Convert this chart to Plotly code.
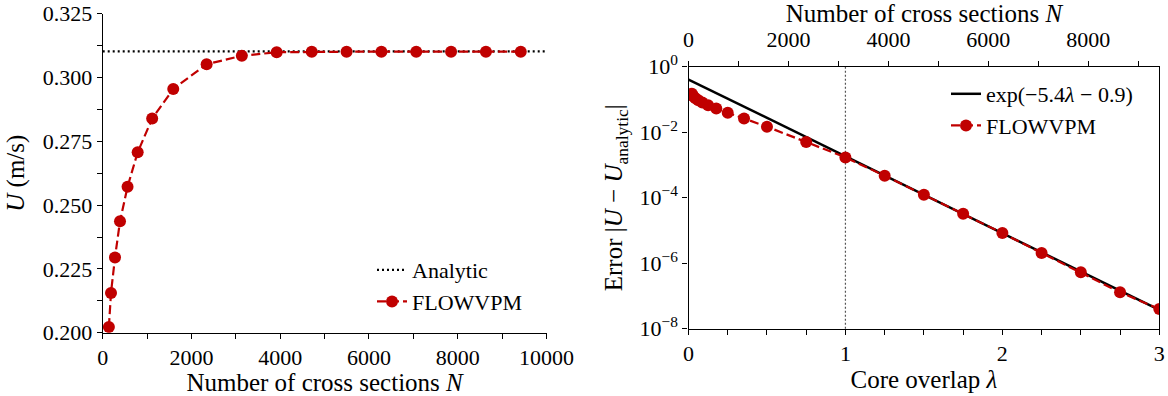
import plotly.graph_objects as go

# ---------------- data ----------------
# Left panel: converged velocity vs number of cross sections
N_sections = [139, 187, 277, 390, 560, 788, 1115, 1590, 2342, 3135, 3920, 4710, 5495, 6280, 7065, 7850, 8635, 9420]
U_flowvpm = [0.2022, 0.2156, 0.2295, 0.2437, 0.2572, 0.2707, 0.2839, 0.2955, 0.3052, 0.3085,
             0.3099, 0.3101, 0.3101, 0.3101, 0.3101, 0.3101, 0.3101, 0.3101]
U_analytic = 0.3102
N_analytic = [0, 10000]

# Right panel: error vs core overlap
lam = [0.022, 0.031, 0.044, 0.0625, 0.088, 0.125, 0.177, 0.25, 0.354, 0.5, 0.75, 1.0,
       1.25, 1.5, 1.75, 2.0, 2.25, 2.5, 2.75, 3.0]
err = [0.150, 0.125, 0.108, 0.0946, 0.0807, 0.0665, 0.053, 0.0395, 0.0262, 0.0147, 0.0050, 0.0017,
       4.7e-4, 1.24e-4, 3.23e-5, 8.3e-6, 2.05e-6, 5.25e-7, 1.29e-7, 4.0e-8]
fit_lam = [0.0, 3.0]
fit_err = [0.4066, 3.74e-8]          # exp(-5.4*lam - 0.9) at the end points
lam_marker = 1.0
N_top_max = 9420                      # N corresponding to lam = 3

left_xticks = [0, 2000, 4000, 6000, 8000, 10000]
left_xticktext = ["0", "2000", "4000", "6000", "8000", "10000"]
left_yticks = [0.200, 0.225, 0.250, 0.275, 0.300, 0.325]
right_xticks = [0, 1, 2, 3]
right_yticks = [1, 1e-2, 1e-4, 1e-6, 1e-8]
right_yticktext = ["10<sup>0</sup>", "10<sup>−2</sup>", "10<sup>−4</sup>", "10<sup>−6</sup>", "10<sup>−8</sup>"]
top_xticks = [0, 2000, 4000, 6000, 8000]

# ---------------- style ----------------
RED = "#c00000"
FONT = "Liberation Serif"
TICK = 22
TITLE = 25
W, H = 1168, 396

fig = go.Figure()

fig.add_trace(go.Scatter(x=N_analytic, y=[U_analytic, U_analytic], mode="lines",
                         line=dict(color="black", width=2.2, dash="2px,3px"),
                         name="Analytic", xaxis="x", yaxis="y", legend="legend"))
fig.add_trace(go.Scatter(x=N_sections, y=U_flowvpm, mode="lines+markers",
                         line=dict(color=RED, width=2.2, dash="9px,4px"),
                         marker=dict(color=RED, size=12),
                         name="FLOWVPM", xaxis="x", yaxis="y", legend="legend"))

fig.add_trace(go.Scatter(x=fit_lam, y=fit_err, mode="lines",
                         line=dict(color="black", width=2.5),
                         name="exp(−5.4<i>λ</i> − 0.9)", xaxis="x2", yaxis="y2", legend="legend2"))
fig.add_trace(go.Scatter(x=lam, y=err, mode="lines+markers",
                         line=dict(color=RED, width=2.2, dash="9px,4px"),
                         marker=dict(color=RED, size=12),
                         name="FLOWVPM", xaxis="x2", yaxis="y2", legend="legend2"))

axis_common = dict(showgrid=False, zeroline=False, showline=True, linecolor="black", linewidth=1.3,
                   ticks="outside", ticklen=5, tickwidth=1.3, tickcolor="black",
                   tickfont=dict(family=FONT, size=TICK, color="black"), automargin=False)
minor_common = dict(ticks="outside", ticklen=5, tickwidth=1.3, tickcolor="black", showgrid=False)

fig.update_layout(
    width=W, height=H, margin=dict(l=0, r=0, t=0, b=0),
    paper_bgcolor="white", plot_bgcolor="white",
    font=dict(family=FONT, color="black"),
    xaxis=dict(**axis_common, domain=[102.7 / W, 546.5 / W], range=[0, 10000], anchor="y",
               tickvals=left_xticks, ticktext=left_xticktext, minor=dict(**minor_common, dtick=1000),
               title=dict(text="Number of cross sections <i>N</i>", font=dict(family=FONT, size=TITLE), standoff=3)),
    yaxis=dict(**axis_common, domain=[1 - 332.7 / H, 1 - 13.7 / H], range=[0.2, 0.325], anchor="x",
               tickvals=left_yticks, tickformat=".3f", minor=dict(**minor_common, dtick=0.0125),
               title=dict(text="<i>U</i> (m/s)", font=dict(family=FONT, size=TITLE), standoff=10)),
    xaxis2=dict(**axis_common, domain=[688.5 / W, 1159.3 / W], range=[0, 3], anchor="y2",
                tickvals=right_xticks, mirror=True, minor=dict(**minor_common, dtick=0.25),
                title=dict(text="Core overlap <i>λ</i>", font=dict(family=FONT, size=TITLE), standoff=3)),
    yaxis2=dict(**axis_common, domain=[1 - 328.7 / H, 1 - 66.7 / H], type="log", range=[-8, 0], anchor="x2",
                tickvals=right_yticks, ticktext=right_yticktext, mirror=True,
                title=dict(text="Error |<i>U</i> − <i>U</i><sub>analytic</sub>|", font=dict(family=FONT, size=TITLE), standoff=9)),
    xaxis3=dict(**axis_common, overlaying="x2", side="top", anchor="y2", range=[0, N_top_max],
                tickvals=top_xticks, minor=dict(**minor_common, dtick=1000), ticklabelstandoff=5,
                title=dict(text="Number of cross sections <i>N</i>", font=dict(family=FONT, size=TITLE), standoff=0)),
    legend=dict(x=372 / W, y=1 - 249 / H, xanchor="left", yanchor="top", bgcolor="rgba(0,0,0,0)",
                font=dict(family=FONT, size=22, color="black"), tracegroupgap=0),
    legend2=dict(x=946 / W, y=1 - 73 / H, xanchor="left", yanchor="top", bgcolor="rgba(0,0,0,0)",
                 font=dict(family=FONT, size=22, color="black")),
    showlegend=True,
)

# invisible trace so the top axis is rendered
fig.add_trace(go.Scatter(x=[0, N_top_max], y=[1e-20, 1e-20], mode="lines", line=dict(width=0),
                         xaxis="x3", yaxis="y2", showlegend=False, hoverinfo="skip"))

fig.add_shape(type="line", xref="x2", yref="y2 domain", x0=lam_marker, x1=lam_marker, y0=0, y1=1,
              line=dict(color="#555555", width=1.2, dash="2px,2px"), layer="below")

fig.write_html("out.html")
